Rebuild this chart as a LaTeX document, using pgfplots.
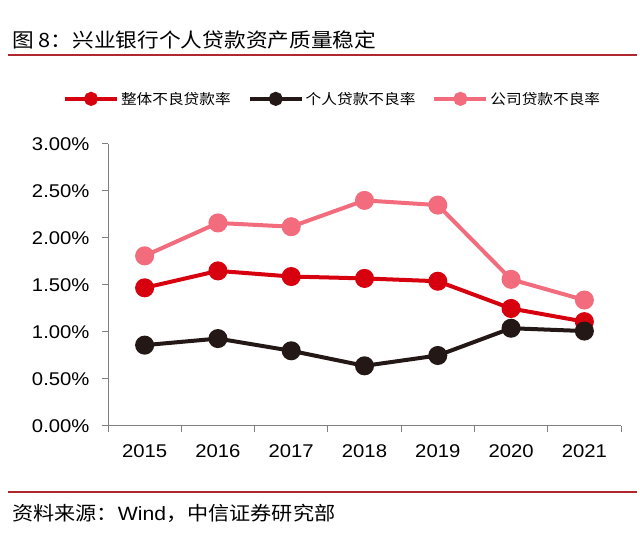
\documentclass[border=0pt]{standalone}
\usepackage{pgfplots}
\pgfplotsset{compat=1.18}
\usepackage{fontspec}
\setmainfont{Liberation Sans}[FakeStretch=1.1]
\newfontfamily\cjk{Noto Sans CJK SC}[FakeStretch=1.1]

\definecolor{cRed}{HTML}{D7000F}
\definecolor{cBlack}{HTML}{231815}
\definecolor{cPink}{HTML}{F26C7D}
\definecolor{cRule}{HTML}{B0282E}
\definecolor{cAxis}{HTML}{7F7F7F}

\begin{document}
\begin{tikzpicture}[x=1bp,y=1bp]
  \path[use as bounding box] (0,0) rectangle (640,539);

  % title and rules
  \node[anchor=west, inner sep=0pt, font=\cjk\fontsize{19.8}{24}\selectfont] at (12,499) {图 8：兴业银行个人贷款资产质量稳定};
  \draw[cRule, line width=1.5bp] (8,484) -- (637,484);
  \draw[cRule, line width=2bp] (8,47) -- (637,47);
  \node[anchor=west, inner sep=0pt, font=\fontsize{19.3}{24}\selectfont] at (12,26) {{\cjk 资料来源：}Wind{\cjk ，中信证券研究部}};

  \begin{axis}[
    at={(108bp,113bp)}, anchor=south west,
    width=513bp, height=282bp, scale only axis,
    xmin=-0.5, xmax=6.5, ymin=0, ymax=3,
    axis lines=left, axis line style={-, cAxis, line width=1bp},
    tick align=outside,
    xtick={0,...,6},
    xticklabels={2015,2016,2017,2018,2019,2020,2021},
    major x tick style={draw=none},
    minor xtick={-0.5,0.5,...,6.5},
    minor tick length=6bp,
    minor x tick style={cAxis, line width=1bp},
    ytick={0,0.5,...,3},
    major tick length=6bp,
    y tick style={cAxis, line width=1bp},
    /pgf/number format/assume math mode=true,
    yticklabel={\pgfmathprintnumber[fixed,fixed zerofill,precision=2]{\tick}\%},
    tick label style={font=\fontsize{18.5}{20}\selectfont, text=black},
    xticklabel style={yshift=-9bp},
    yticklabel style={xshift=-9bp},
    clip=false,
    legend columns=3,
    legend cell align=left,
    legend style={at={(-0.088,1.16)}, anchor=west, draw=none, fill=none,
      font=\cjk\fontsize{14.3}{18}\selectfont, inner sep=0pt,
      /tikz/every even column/.append style={column sep=15bp}},
    legend image code/.code={
      \draw[mark repeat=2, mark phase=2, #1, mark size=5bp] plot coordinates {(0bp,0bp) (26bp,0bp) (52bp,0bp)};
    },
  ]
    \addplot[cRed, line width=4bp, mark=*, mark size=7.5bp, mark options={solid}] coordinates {
      (0,1.47) (1,1.65) (2,1.59) (3,1.57) (4,1.54) (5,1.25) (6,1.11)
    };
    \addplot[cBlack, line width=4bp, mark=*, mark size=7.5bp, mark options={solid}] coordinates {
      (0,0.86) (1,0.93) (2,0.80) (3,0.64) (4,0.75) (5,1.04) (6,1.01)
    };
    \addplot[cPink, line width=4bp, mark=*, mark size=7.5bp, mark options={solid}] coordinates {
      (0,1.81) (1,2.16) (2,2.12) (3,2.40) (4,2.35) (5,1.56) (6,1.34)
    };
    \legend{整体不良贷款率,个人贷款不良率,公司贷款不良率}
  \end{axis}
\end{tikzpicture}
\end{document}
